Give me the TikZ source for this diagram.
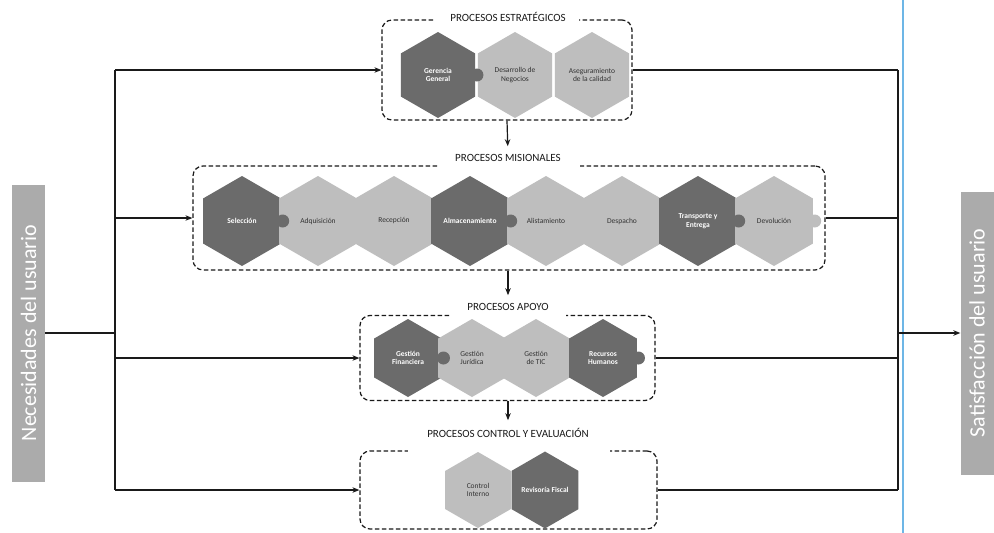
\documentclass[tikz,border=0pt]{standalone}
\usepackage{fontspec}
\setmainfont{Carlito}
\usetikzlibrary{arrows.meta,shapes.geometric}
\definecolor{hexdk}{HTML}{6B6B6B}
\definecolor{hexlt}{HTML}{BEBEBE}
\definecolor{hextxt}{HTML}{333333}
\definecolor{barg}{HTML}{ABABAB}
\definecolor{pageblue}{HTML}{6DB6E6}
\definecolor{ink}{HTML}{1A1A1A}
\tikzset{
  pbox/.style={draw=ink, dashed, dash pattern=on 4.5pt off 2.5pt, line width=1.2pt, rounded corners=10pt},
  ptitle/.style={inner sep=0pt, text=ink, font=\fontsize{11}{12}\selectfont},
  hexbase/.style={shape=regular polygon, regular polygon sides=6, shape border rotate=30, inner sep=0pt, align=center, font=\fontsize{7.5}{8.5}\selectfont},
  hexd/.style={hexbase, fill=hexdk, text=white, font=\fontsize{7.5}{8.5}\selectfont\bfseries},
  hexl/.style={hexbase, fill=hexlt, text=hextxt},
  sidebar/.style={fill=barg, text=white, inner sep=0pt, font=\fontsize{22}{24}\selectfont},
  conn/.style={draw=ink, line width=1.2pt},
  arr/.style={conn, -{Stealth[length=7pt,width=5.5pt]}},
}
\newcommand{\knob}[2]{\fill[#1] ([xshift=1.5pt]#2.east) circle (6.5pt);}
\begin{document}
\begin{tikzpicture}[x=1pt,y=-1pt]
\useasboundingbox[fill=white] (0,0) rectangle (994,533);
% page edge line
\draw[pageblue, line width=1.2pt] (903,0) -- (903,533);

% side bars
\node[sidebar, minimum width=33, minimum height=297] (need) at (28.5,333) {\rotatebox{90}{Necesidades del usuario}};
\node[sidebar, minimum width=33, minimum height=283] (sat) at (977,333) {\rotatebox{90}{Satisfacción del usuario}};

% process boxes
\node[pbox, minimum width=250, minimum height=100] (est) at (507,70) {};
\node[pbox, minimum width=632, minimum height=104] (mis) at (509,218) {};
\node[pbox, minimum width=295, minimum height=85] (apo) at (507.5,358) {};
\node[pbox, minimum width=297, minimum height=78] (con) at (508.5,490) {};

% gaps in the top edges for the titles
\fill[white] ([xshift=-72pt,yshift=-3pt]est.north) rectangle ([xshift=72pt,yshift=3pt]est.north);
\fill[white] ([xshift=-71pt,yshift=-3pt]mis.north) rectangle ([xshift=71pt,yshift=3pt]mis.north);
\fill[white] ([xshift=-58pt,yshift=-3pt]apo.north) rectangle ([xshift=58pt,yshift=3pt]apo.north);
\fill[white] ([xshift=-101pt,yshift=-3pt]con.north) rectangle ([xshift=101pt,yshift=3pt]con.north);

% titles
\node[ptitle] (test) at (508,17) {PROCESOS ESTRATÉGICOS};
\node[ptitle] (tmis) at (508,158) {PROCESOS MISIONALES};
\node[ptitle] (tapo) at (508,307) {PROCESOS APOYO};
\node[ptitle] (tcon) at (508,433) {PROCESOS CONTROL Y EVALUACIÓN};

% strategic
\node[hexd, minimum size=86] (gg) at (438,75) {Gerencia\\General};
\node[hexl, minimum size=86] (dn) at (515,75) {Desarrollo de\\Negocios};
\node[hexl, minimum size=86] (ac) at (592,75) {Aseguramiento\\de la calidad};
\knob{hexdk}{gg}

% misionales
\node[hexd, minimum size=90] (sel) at (242,221) {Selección};
\node[hexl, minimum size=90] (adq) at (318,221) {Adquisición};
\node[hexl, minimum size=90] (rec) at (394,221) {Recepción};
\node[hexd, minimum size=90] (alm) at (470,221) {Almacenamiento};
\node[hexl, minimum size=90] (ali) at (546,221) {Alistamiento};
\node[hexl, minimum size=90] (des) at (622,221) {Despacho};
\node[hexd, minimum size=90] (tra) at (698,221) {Transporte y\\Entrega};
\node[hexl, minimum size=90] (dev) at (774,221) {Devolución};
\knob{hexdk}{sel}
\knob{hexdk}{alm}
\knob{hexdk}{tra}
\knob{hexlt}{dev}

% apoyo
\node[hexd, minimum size=78] (gf) at (408,358) {Gestión\\Financiera};
\node[hexl, minimum size=78] (gj) at (472,358) {Gestión\\Jurídica};
\node[hexl, minimum size=78] (gt) at (536,358) {Gestión\\de TIC};
\node[hexd, minimum size=78] (rh) at (603,358) {Recursos\\Humanos};
\knob{hexdk}{gf}
\knob{hexdk}{rh}

% control
\node[hexl, minimum size=76] (ci) at (478,490) {Control\\Interno};
\node[hexd, minimum size=76] (rf) at (545,490) {Revisoría Fiscal};

% vertical arrows between levels
\draw[arr, shorten >=8pt] (est.south) -- (tmis.north);
\draw[arr, shorten >=8pt] (mis.south -| tapo.north) -- (tapo.north);
\draw[arr, shorten >=8pt] (apo.south -| tcon.north) -- (tcon.north);

% left trunk
\coordinate (lt) at (115,70);
\coordinate (lb) at (115,490);
\draw[conn] (need.east) -- (need.east -| lt);
\draw[conn] (lt) -- (lb);
\draw[arr] (lt) -- (est.west);
\draw[arr] (mis.west -| lt) -- (mis.west);
\draw[arr] (apo.west -| lt) -- (apo.west);
\draw[arr] (lb) -- (con.west);

% right trunk
\coordinate (rt) at (898,70);
\coordinate (rb) at (898,490);
\draw[conn] (est.east) -- (rt);
\draw[conn] (mis.east) -- (mis.east -| rt);
\draw[conn] (apo.east) -- (apo.east -| rt);
\draw[conn] (con.east) -- (rb);
\draw[conn] (rt) -- (rb);
\draw[arr] (sat.west -| rt) -- (sat.west);
\end{tikzpicture}
\end{document}
